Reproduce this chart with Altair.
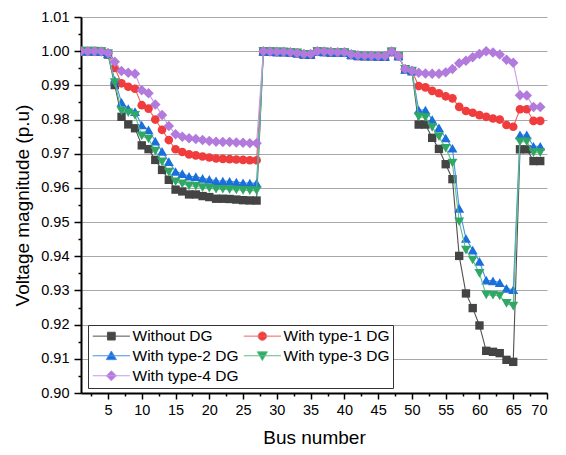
import altair as alt
import pandas as pd

bus = list(range(1, 70))

without_dg = [1.0000, 0.99997, 0.99993, 0.99984, 0.99902, 0.99009, 0.98079, 0.97858, 0.97745, 0.97245,
              0.97135, 0.96819, 0.96526, 0.96237, 0.95950, 0.95897, 0.95809, 0.95808, 0.95761, 0.95732,
              0.95683, 0.95683, 0.95676, 0.95659, 0.95641, 0.95633, 0.95630, 0.99993, 0.99985, 0.99973,
              0.99971, 0.99961, 0.99935, 0.99901, 0.99895, 0.99992, 0.99975, 0.99959, 0.99954, 0.99954,
              0.99884, 0.99855, 0.99851, 0.99850, 0.99841, 0.99840, 0.99979, 0.99854, 0.99470, 0.99415,
              0.97853, 0.97853, 0.97465, 0.97141, 0.96693, 0.96256, 0.94011, 0.92913, 0.92484, 0.91976,
              0.91234, 0.91205, 0.91166, 0.90970, 0.90911, 0.97129, 0.97129, 0.96786, 0.96786]

type1_dg = [1.0000, 1.0000, 1.0000, 0.9999, 0.9993, 0.9951, 0.9906, 0.9896, 0.9890, 0.9842,
            0.9832, 0.9800, 0.9770, 0.9740, 0.9713, 0.9705, 0.9698, 0.9695, 0.9692, 0.9689,
            0.9686, 0.9685, 0.9684, 0.9683, 0.9682, 0.9681, 0.9681, 0.9999, 0.9999, 0.9998,
            0.9998, 0.9997, 0.9995, 0.9991, 0.9991, 0.9999, 0.9998, 0.9997, 0.9996, 0.9996,
            0.9990, 0.9987, 0.9986, 0.9986, 0.9985, 0.9985, 0.9998, 0.9986, 0.9947, 0.9942,
            0.9898, 0.9894, 0.9884, 0.9877, 0.9868, 0.9862, 0.9837, 0.9825, 0.9820, 0.9813,
            0.9808, 0.9803, 0.9800, 0.9784, 0.9779, 0.9830, 0.9830, 0.9796, 0.9796]

type2_dg = [1.0000, 1.0000, 1.0000, 0.9999, 0.9993, 0.9915, 0.9850, 0.9832, 0.9823, 0.9784,
            0.9770, 0.9737, 0.9707, 0.9677, 0.9648, 0.9642, 0.9634, 0.9633, 0.9628, 0.9625,
            0.9621, 0.9620, 0.9619, 0.9617, 0.9615, 0.9614, 0.9614, 0.9999, 0.9999, 0.9998,
            0.9998, 0.9997, 0.9995, 0.9991, 0.9991, 0.9999, 0.9998, 0.9997, 0.9996, 0.9996,
            0.9990, 0.9987, 0.9986, 0.9986, 0.9985, 0.9985, 0.9998, 0.9986, 0.9947, 0.9942,
            0.9828, 0.9828, 0.9800, 0.9776, 0.9746, 0.9716, 0.9540, 0.9452, 0.9418, 0.9385,
            0.9330, 0.9328, 0.9323, 0.9306, 0.9302, 0.9755, 0.9755, 0.9722, 0.9722]

type3_dg = [1.0000, 1.0000, 1.0000, 0.9999, 0.9993, 0.9908, 0.9825, 0.9820, 0.9812, 0.9752,
            0.9743, 0.9708, 0.9676, 0.9646, 0.9618, 0.9612, 0.9606, 0.9605, 0.9601, 0.9599,
            0.9596, 0.9596, 0.9595, 0.9594, 0.9593, 0.9592, 0.9592, 0.9999, 0.9999, 0.9998,
            0.9998, 0.9997, 0.9995, 0.9991, 0.9991, 0.9999, 0.9998, 0.9997, 0.9996, 0.9996,
            0.9990, 0.9987, 0.9986, 0.9986, 0.9985, 0.9985, 0.9998, 0.9986, 0.9947, 0.9942,
            0.9808, 0.9806, 0.9777, 0.9750, 0.9716, 0.9673, 0.9501, 0.9418, 0.9389, 0.9350,
            0.9287, 0.9286, 0.9284, 0.9262, 0.9254, 0.9735, 0.9735, 0.9703, 0.9703]

type4_dg = [1.0000, 1.0000, 1.0000, 0.9999, 0.9995, 0.9969, 0.9942, 0.9937, 0.9934, 0.9886,
            0.9877, 0.9844, 0.9813, 0.9781, 0.9757, 0.9750, 0.9745, 0.9743, 0.9740, 0.9737,
            0.9735, 0.9734, 0.9734, 0.9733, 0.9732, 0.9731, 0.9731, 1.0000, 0.9999, 0.9998,
            0.9998, 0.9997, 0.9995, 0.9992, 0.9992, 1.0000, 0.9999, 0.9998, 0.9997, 0.9997,
            0.9991, 0.9988, 0.9987, 0.9987, 0.9986, 0.9986, 0.9999, 0.9986, 0.9948, 0.9943,
            0.9937, 0.9935, 0.9934, 0.9934, 0.9938, 0.9948, 0.9965, 0.9972, 0.9982, 0.9992,
            1.0000, 0.9996, 0.9990, 0.9975, 0.9966, 0.9871, 0.9870, 0.9837, 0.9837]

series_names = ["Without DG", "With type-1 DG", "With type-2 DG", "With type-3 DG", "With type-4 DG"]
series_values = [without_dg, type1_dg, type2_dg, type3_dg, type4_dg]
colors = ["#444444", "#f03c3c", "#1a6fdc", "#2fa866", "#b27adc"]
line_colors = ["#505050", "#f06060", "#4a8ee6", "#5cbf88", "#c89ae6"]
shapes = ["square", "circle", "triangle-up", "triangle-down", "diamond"]
sizes = [70, 75, 100, 100, 110]

# legend symbols: a line with the marker in its middle (unit coords)
legend_paths = [
    "M-1,0H5.2M1.45,-0.65H2.75V0.65H1.45Z",
    "M2.8,0A0.7,0.7 0 1 1 1.4,0A0.7,0.7 0 1 1 2.8,0ZM-1,0H5.2",
    "M2.1,-0.8L2.95,0.65L1.25,0.65ZM-1,0H5.2",
    "M2.1,0.8L2.95,-0.65L1.25,-0.65ZM-1,0H5.2",
    "M2.1,-0.85L2.95,0L2.1,0.85L1.25,0ZM-1,0H5.2",
]

rows = []
for name, vals in zip(series_names, series_values):
    for b, v in zip(bus, vals):
        rows.append({"series": name, "bus": b, "v": v})
df = pd.DataFrame(rows)

font = "Liberation Sans"

x_ticks = [2.5 * i for i in range(1, 29)]
y_ticks = [round(0.900 + 0.005 * i, 3) for i in range(0, 23)]

X = alt.X("bus:Q", scale=alt.Scale(domain=[1, 70], nice=False, zero=False),
          axis=alt.Axis(title="Bus number", values=x_ticks,
                        labelExpr="datum.value % 5 === 0 ? datum.label : ''",
                        tickSize={"condition": {"test": "datum.value % 5 === 0", "value": 6}, "value": 3},
                        grid=False, labelFontSize=14.5, titleFontSize=19, labelPadding=4,
                        titlePadding=12))
Y = alt.Y("v:Q", scale=alt.Scale(domain=[0.90, 1.01], nice=False, zero=False),
          axis=alt.Axis(title="Voltage magnitude (p.u)", values=y_ticks,
                        labelExpr="round(datum.value * 1000) % 10 === 0 ? format(datum.value, '.2f') : ''",
                        tickSize={"condition": {"test": "round(datum.value * 1000) % 10 === 0", "value": 7}, "value": 3},
                        grid=True,
                        gridOpacity={"condition": {"test": "round(datum.value * 1000) % 10 === 0", "value": 1}, "value": 0},
                        labelFontSize=14.5, titleFontSize=19, labelPadding=5, titlePadding=8))

layers = []
for name, c, lc, s, sz in zip(series_names, colors, line_colors, shapes, sizes):
    base = alt.Chart(df[df["series"] == name])
    layers.append(base.mark_line(color=lc, strokeWidth=1.1, clip=True).encode(x=X, y=Y))
    layers.append(base.mark_point(shape=s, filled=True, color=c, size=sz, opacity=1, clip=True).encode(x=X, y=Y))

leg_df = pd.DataFrame({"series": series_names, "bus": [1] * 5, "v": [0.5] * 5})
leg = alt.Legend(title=None, orient="none", legendX=7, legendY=308, columns=2, direction="horizontal")
legend_layer = alt.Chart(leg_df).mark_point(clip=True, opacity=1, strokeWidth=1).encode(
    x=X, y=Y,
    fill=alt.Fill("series:N", scale=alt.Scale(domain=series_names, range=colors), legend=leg),
    stroke=alt.Stroke("series:N", scale=alt.Scale(domain=series_names, range=line_colors), legend=leg),
    shape=alt.Shape("series:N", scale=alt.Scale(domain=series_names, range=legend_paths), legend=leg),
)
layers.append(legend_layer)

chart = alt.layer(*layers).properties(
    width=466, height=376,
    autosize=alt.AutoSizeParams(type="none"),
    padding={"left": 81, "top": 17, "right": 19, "bottom": 62},
).configure_view(stroke=None).configure_axis(
    labelFont=font, titleFont=font, labelColor="black", titleColor="black",
    titleFontWeight="normal", domainColor="black", domainWidth=2, tickColor="black",
    tickWidth=1.5, gridColor="#a8a8a8", gridWidth=1,
).configure_legend(
    labelFont=font, labelFontSize=15.5, labelColor="black", symbolSize=144,
    symbolStrokeWidth=1, labelOffset=26, strokeColor="#333333", fillColor="white",
    padding=3, rowPadding=3, columnPadding=2, labelLimit=300,
)

chart.save("out.html", embed_options={"renderer": "svg", "actions": False})
